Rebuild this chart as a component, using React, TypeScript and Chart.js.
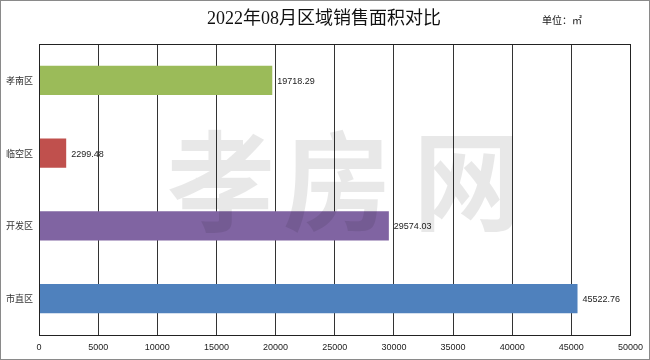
import React, { useEffect, useRef } from "react";
import { Chart, registerables } from "chart.js";

Chart.register(...registerables);

const categories = ["孝南区", "临空区", "开发区", "市直区"];
const values = [19718.29, 2299.48, 29574.03, 45522.76];
const barColors = ["#9BBB59", "#C0504D", "#8064A2", "#4F81BD"];
const titleText = "2022年08月区域销售面积对比";
const unitText = "单位：㎡";
const watermarkChars = ["孝", "房", "网"];

export default function App() {
  const ref = useRef<HTMLCanvasElement | null>(null);

  useEffect(() => {
    document.body.style.margin = "0";
    const canvas = ref.current!;
    const framePlugin = {
      id: "frame",
      beforeDraw(chart: any) {
        const ctx = chart.ctx;
        ctx.save();
        ctx.fillStyle = "#ffffff";
        ctx.fillRect(0, 0, chart.width, chart.height);
        ctx.strokeStyle = "#8a8a8a";
        ctx.lineWidth = 1;
        ctx.strokeRect(0.5, 0.5, chart.width - 1, chart.height - 1);
        ctx.fillStyle = "#111";
        ctx.font = "18px 'Liberation Serif', 'Noto Sans CJK SC'";
        ctx.textAlign = "center";
        ctx.textBaseline = "middle";
        ctx.fillText(titleText, 324, 19);
        ctx.font = "10px 'Noto Sans CJK SC'";
        ctx.fillText(unitText, 562, 20);
        ctx.restore();
      },
      afterDatasetsDraw(chart: any) {
        const ctx = chart.ctx;
        const a = chart.chartArea;
        ctx.save();
        ctx.strokeStyle = "#222";
        ctx.lineWidth = 1;
        ctx.strokeRect(Math.round(a.left) + 0.5, Math.round(a.top) + 0.5, Math.round(a.right - a.left), Math.round(a.bottom - a.top));
        const meta = chart.getDatasetMeta(0);
        ctx.fillStyle = "#222";
        ctx.font = "9px 'Liberation Sans', 'DejaVu Sans'";
        ctx.textAlign = "left";
        ctx.textBaseline = "middle";
        meta.data.forEach((el: any, i: number) => {
          ctx.fillText(values[i].toFixed(2), el.x + 5, el.y + 1);
        });
        ctx.restore();
      },
      afterDraw(chart: any) {
        const ctx = chart.ctx;
        ctx.save();
        ctx.fillStyle = "rgba(0,0,0,0.09)";
        ctx.font = "bold 108px 'Noto Sans CJK SC'";
        ctx.textAlign = "center";
        ctx.textBaseline = "middle";
        const xs = [221, 337, 467];
        watermarkChars.forEach((c, i) => ctx.fillText(c, xs[i], 181));
        ctx.restore();
      },
    };

    const chart = new Chart(canvas, {
      type: "bar",
      data: {
        labels: categories,
        datasets: [
          {
            data: values,
            backgroundColor: barColors,
            borderColor: barColors,
            borderWidth: 0,
            barPercentage: 0.4,
            categoryPercentage: 1,
          },
        ],
      },
      options: {
        indexAxis: "y",
        animation: false,
        responsive: false,
        maintainAspectRatio: false,
        layout: { padding: { top: 44, right: 16, left: 0, bottom: 0 } },
        plugins: { legend: { display: false }, tooltip: { enabled: false }, title: { display: false } },
        scales: {
          x: {
            min: 0,
            max: 50000,
            ticks: {
              stepSize: 5000,
              color: "#222",
              padding: 7,
              font: { size: 9, family: "'Liberation Sans', 'DejaVu Sans'" },
              callback: (v: any) => String(v),
            },
            grid: { color: "#333", lineWidth: 1, drawTicks: false },
            border: { display: false },
            afterFit(scale: any) {
              scale.height = 25;
            },
          },
          y: {
            ticks: {
              color: "#333",
              padding: 6,
              font: { size: 9, family: "'Noto Sans CJK SC'" },
            },
            grid: { display: false, drawTicks: false },
            border: { display: false },
            afterFit(scale: any) {
              scale.width = 39;
            },
          },
        },
      },
      plugins: [framePlugin],
    } as any);
    return () => chart.destroy();
  }, []);

  return <canvas ref={ref} width={650} height={360} style={{ display: "block" }} />;
}
